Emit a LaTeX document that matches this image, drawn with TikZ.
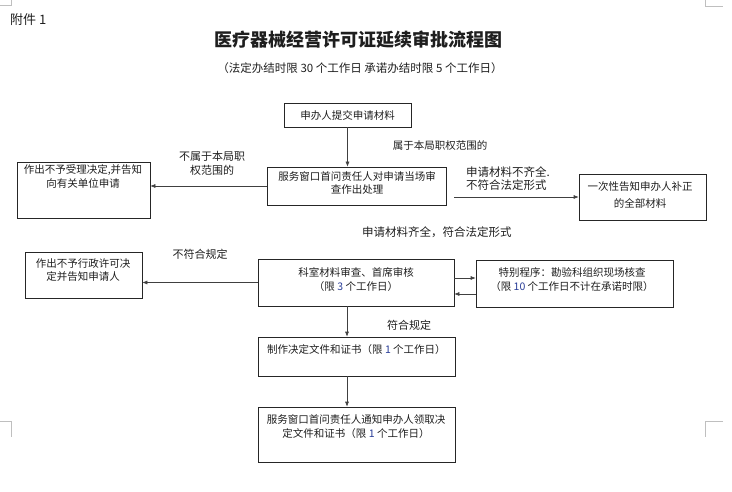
\documentclass[tikz,border=0pt]{standalone}
\usepackage{fontspec}
\setmainfont{Noto Sans CJK SC}
\usetikzlibrary{arrows.meta}
\definecolor{numblue}{RGB}{40,60,150}
\definecolor{ink}{RGB}{30,30,30}
\tikzset{
  bx/.style={draw=black!85, line width=0.6pt, rectangle, inner sep=0pt},
  arr/.style={draw=black!75, line width=0.6pt, -{Latex[length=5pt,width=4pt]}},
  txt/.style={inner sep=0pt, text=ink, font=\fontsize{10.5}{14}\selectfont, align=center},
  lbl/.style={inner sep=0pt, text=ink, font=\fontsize{11}{14}\selectfont, align=left},
  crn/.style={draw=black!25, line width=0.8pt}
}
\begin{document}
\begin{tikzpicture}[x=1pt,y=-1pt]
\useasboundingbox (0,0) rectangle (732,492);
% corner marks
\draw[crn] (0,5) -- (11,5) -- (11,0);
\draw[crn] (705,0) -- (705,6) -- (723,6);
\draw[crn] (0,421) -- (11,421) -- (11,437);
\draw[crn] (723,421) -- (705,421) -- (705,437);
% header
\node[inner sep=0pt, anchor=west, text=ink, font=\fontsize{13}{15}\selectfont] (att) at (10,20) {附件 1};
\node[inner sep=0pt, text=ink, font=\bfseries\fontsize{18}{20}\selectfont] (title) at (358,40) {医疗器械经营许可证延续审批流程图};
\node[inner sep=0pt, text=ink, font=\fontsize{11.5}{14}\selectfont] (sub) at (360,68) {（法定办结时限 30 个工作日 承诺办结时限 5 个工作日）};
% boxes
\node[bx, minimum width=127pt, minimum height=24pt] (top) at (347.5,115) {};
\node[bx, minimum width=179pt, minimum height=38pt] (main) at (356.5,186) {};
\node[bx, minimum width=133pt, minimum height=56pt] (lb1) at (83.5,190) {};
\node[bx, minimum width=127pt, minimum height=46pt] (rb) at (642.5,197) {};
\node[bx, minimum width=196pt, minimum height=47pt] (ks) at (356,282.5) {};
\node[bx, minimum width=117pt, minimum height=46pt] (lb2) at (83.5,275) {};
\node[bx, minimum width=197pt, minimum height=47pt] (sp) at (574.5,283.5) {};
\node[bx, minimum width=197pt, minimum height=39pt] (zd) at (356.5,356.5) {};
\node[bx, minimum width=197pt, minimum height=55pt] (fn) at (356.5,434.5) {};
% box texts
\node[txt] (ttop) at (347.5,115) {申办人提交申请材料};
\node[txt, font=\fontsize{10.5}{12.5}\selectfont] (tmain) at (357,183) {服务窗口首问责任人对申请当场审\\查作出处理};
\node[txt] (tlb1) at (83,176) {作出不予受理决定,并告知\\向有关单位申请};
\node[txt, font=\fontsize{10.5}{17}\selectfont] (trb) at (640,194.5) {一次性告知申办人补正\\的全部材料};
\node[txt] (tks) at (356,280) {科室材料审查、首席审核\\（限 {\color{numblue}3} 个工作日）};
\node[txt, font=\fontsize{10.5}{13}\selectfont] (tlb2) at (83,270.5) {作出不予行政许可决\\定并告知申请人};
\node[txt] (tsp) at (572,279.5) {特别程序：勘验科组织现场核查\\（限 {\color{numblue}10} 个工作日不计在承诺时限）};
\node[txt, anchor=west] (tzd) at (267,350) {制作决定文件和证书（限 {\color{numblue}1} 个工作日）};
\node[txt] (tfn) at (356,427) {服务窗口首问责任人通知申办人领取决\\定文件和证书（限 {\color{numblue}1} 个工作日）};
% labels
\node[lbl, align=center] (l1) at (212,163) {不属于本局职\\权范围的};
\node[lbl, font=\fontsize{10.5}{14}\selectfont] (l2) at (440,146) {属于本局职权范围的};
\node[lbl, anchor=west, font=\fontsize{11.5}{13}\selectfont] (l3) at (466,178.5) {申请材料不齐全.\\不符合法定形式};
\node[lbl, anchor=west, font=\fontsize{11.5}{14}\selectfont] (l4) at (362,232) {申请材料齐全，符合法定形式};
\node[lbl] (l5) at (200,254) {不符合规定};
\node[lbl] (l6) at (409,325) {符合规定};
% helper coordinates
\coordinate (ya) at (0,278);
\coordinate (yb) at (0,294);
\coordinate (xa) at (347,0);
\coordinate (s1) at (454,197);
% connectors
\draw[arr] (top.south) -- (top.south |- main.north);
\draw[arr] (main.west) -- (main.west -| lb1.east);
\draw[arr] (s1) -- (rb.west);
\draw[arr] (ks.west) -- (ks.west -| lb2.east);
\draw[arr] (ks.east |- ya) -- (sp.west |- ya);
\draw[arr] (sp.west |- yb) -- (ks.east |- yb);
\draw[arr] (xa |- ks.south) -- (xa |- zd.north);
\draw[arr] (xa |- zd.south) -- (xa |- fn.north);
\end{tikzpicture}
\end{document}
